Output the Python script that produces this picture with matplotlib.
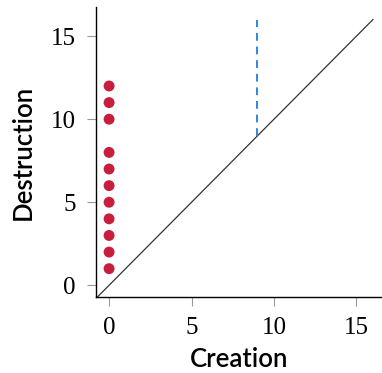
import matplotlib
matplotlib.use("Agg")
import matplotlib.pyplot as plt

# Data
creation = [0, 0, 0, 0, 0, 0, 0, 0, 0, 0, 0]
destruction = [1, 2, 3, 4, 5, 6, 7, 8, 10, 11, 12]
diag_ends = [-1, 16]
inf_creation = [9]
inf_dest_range = [9, 16]
ticks = [0, 5, 10, 15]

fig = plt.figure(figsize=(3.82, 3.73), dpi=100)
ax = fig.add_axes([0.251, 0.204, 0.749, 0.777])

ax.plot(diag_ends, diag_ends, color="#333333", lw=0.9, zorder=1)
for c in inf_creation:
    ax.plot([c, c], inf_dest_range, color="#2f86e0", lw=1.4, ls=(0, (4, 3)), zorder=2)
ax.scatter(creation, destruction, s=62, color="#c81e3e", edgecolors="none", zorder=3)

ax.set_xlim(-0.8, 16.55)
ax.set_ylim(-0.7, 16.75)
ax.set_xticks(ticks)
ax.set_yticks(ticks)
for s in ["top", "right"]:
    ax.spines[s].set_visible(False)
for s in ["left", "bottom"]:
    ax.spines[s].set_linewidth(1.0)
    ax.spines[s].set_color("black")
ax.tick_params(length=6.5, width=0.8, color="#999999", pad=8)
for lab in ax.get_xticklabels() + ax.get_yticklabels():
    lab.set_fontfamily("Liberation Serif")
    lab.set_fontsize(18)
ax.set_xlabel("Creation", fontfamily="Lato", fontsize=18.5, fontweight="semibold", labelpad=6)
ax.set_ylabel("Destruction", fontfamily="Lato", fontsize=18.5, fontweight="semibold", labelpad=11)

fig.savefig("out.png", dpi=100)
